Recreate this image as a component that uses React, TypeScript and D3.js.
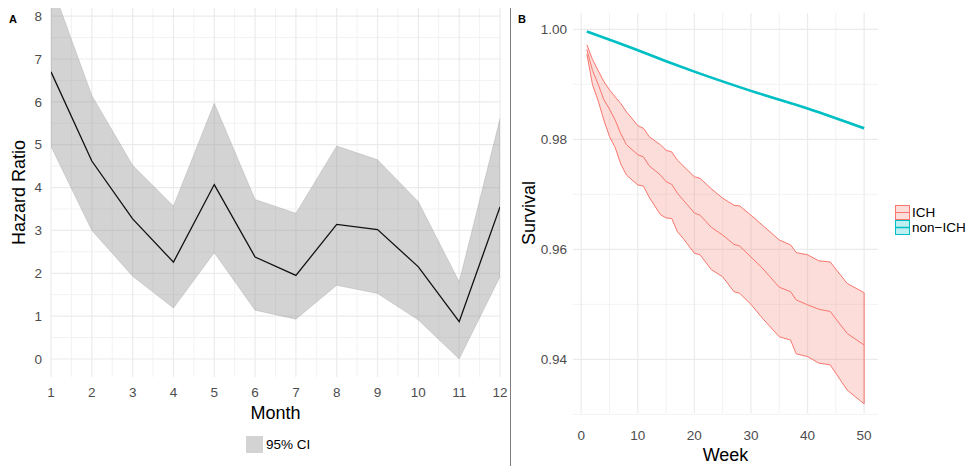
import React from 'react';
import * as d3 from 'd3';

// Panel A: monthly hazard ratio with 95% CI
const months = [1, 2, 3, 4, 5, 6, 7, 8, 9, 10, 11, 12];
const hazard = [6.7, 4.62, 3.27, 2.26, 4.07, 2.38, 1.95, 3.14, 3.02, 2.15, 0.87, 3.55];
const hrLower = [4.96, 3.0, 1.93, 1.19, 2.48, 1.14, 0.93, 1.72, 1.53, 0.91, 0.0, 1.92];
const hrUpper = [8.77, 6.15, 4.52, 3.57, 5.97, 3.72, 3.4, 4.97, 4.65, 3.67, 1.8, 5.61];
const hrTicks = [0, 1, 2, 3, 4, 5, 6, 7, 8];

// Panel B: survival curves
const ichWeeks = [1, 2, 3, 4, 5, 6, 7, 8, 10, 11, 12, 14, 15, 16, 17, 18, 20, 21, 23, 25, 27, 28, 30, 32, 35, 37, 38, 40, 42, 44, 47, 50];
const ichSurv = [0.9963, 0.9925, 0.99, 0.9872, 0.9855, 0.9835, 0.981, 0.979, 0.9772, 0.9768, 0.9752, 0.9735, 0.9723, 0.9718, 0.9702, 0.969, 0.9666, 0.9662, 0.964, 0.9626, 0.9609, 0.9606, 0.9586, 0.9566, 0.9531, 0.9523, 0.9508, 0.9499, 0.9491, 0.9487, 0.9447, 0.9426];
const ichUpper = [0.9972, 0.9945, 0.9925, 0.9905, 0.989, 0.9877, 0.9865, 0.985, 0.9825, 0.982, 0.9805, 0.979, 0.978, 0.9777, 0.9762, 0.9752, 0.9732, 0.9729, 0.971, 0.9693, 0.968, 0.9679, 0.9662, 0.9644, 0.9617, 0.9608, 0.9594, 0.959, 0.9579, 0.9577, 0.9538, 0.9521];
const ichLower = [0.9955, 0.9899, 0.987, 0.9835, 0.9805, 0.9785, 0.9755, 0.9735, 0.9717, 0.9715, 0.9695, 0.9663, 0.9657, 0.9656, 0.9632, 0.962, 0.9593, 0.959, 0.9563, 0.955, 0.9523, 0.952, 0.95, 0.9475, 0.9441, 0.9435, 0.941, 0.9405, 0.9393, 0.939, 0.9344, 0.9319];
const nonWeeks = [1, 10, 15, 20, 30, 40, 50];
const nonSurv = [0.9996, 0.9962, 0.9942, 0.9923, 0.9888, 0.9856, 0.982];
const nonUpper = [0.9997, 0.9964, 0.9944, 0.9925, 0.989, 0.9858, 0.9823];
const nonLower = [0.9995, 0.996, 0.994, 0.9921, 0.9886, 0.9854, 0.9817];
const weekTicks = [0, 10, 20, 30, 40, 50];
const survTicks = [0.94, 0.96, 0.98, 1.0];

const FONT = '"Liberation Sans", Arial, Helvetica, sans-serif';
const RED = '#F8766D';
const CYAN = '#00BFC4';
const GRID = '#EBEBEB';
const TICK = '#4D4D4D';

export default function App() {
  // ---- panel A scales
  const xA = d3.scaleLinear().domain([1, 12]).range([51, 500]);
  const yA = d3.scaleLinear().domain([-0.42, 8.19]).range([377, 8]);
  const [ax0, ax1] = xA.range();
  const [ay0, ay1] = yA.range();

  const bandA = d3.area<number>()
    .x((_, i) => xA(months[i]))
    .y0((_, i) => yA(hrLower[i]))
    .y1((_, i) => yA(hrUpper[i]));
  const lineA = d3.line<number>()
    .x((_, i) => xA(months[i]))
    .y(d => yA(d));

  const minorXA = d3.range(1.5, 12, 1);
  const minorYA = d3.range(-0.5, 8.5, 1).filter(v => yA(v) <= ay0 && yA(v) >= ay1);

  // ---- panel B scales
  const xB = d3.scaleLinear().domain([-1.45, 52.45]).range([573, 878]);
  const yB = d3.scaleLinear().domain([0.93024, 1.00296]).range([413, 13]);
  const [bx0, bx1] = xB.range();
  const [by0, by1] = yB.range();

  const bandB = (w: number[], lo: number[], hi: number[]) =>
    d3.area<number>()
      .x((_, i) => xB(w[i]))
      .y0((_, i) => yB(lo[i]))
      .y1((_, i) => yB(hi[i]))(w) || '';
  const lineB = (w: number[], v: number[], curve = d3.curveLinear) =>
    d3.line<number>()
      .x((_, i) => xB(w[i]))
      .y(d => yB(d))
      .curve(curve)(v) || '';

  const minorXB = d3.range(5, 55, 10);
  const minorYB = d3.range(0.93, 1.0, 0.02);

  return (
    <div style={{ position: 'absolute', left: 0, top: 0 }}>
      <svg width={967} height={468} style={{ display: 'block', fontFamily: FONT }}>
        <rect width={967} height={468} fill="#fff" />
        <defs>
          <clipPath id="clipA">
            <rect x={ax0} y={ay1} width={ax1 - ax0} height={ay0 - ay1} />
          </clipPath>
        </defs>

        {/* ===== Panel A ===== */}
        <g>
          {minorXA.map(v => (
            <line key={'mxa' + v} x1={xA(v)} x2={xA(v)} y1={ay1} y2={ay0} stroke="#F2F2F2" strokeWidth={1} />
          ))}
          {minorYA.map(v => (
            <line key={'mya' + v} x1={ax0} x2={ax1} y1={yA(v)} y2={yA(v)} stroke="#F2F2F2" strokeWidth={1} />
          ))}
          {months.map(m => (
            <line key={'gxa' + m} x1={xA(m)} x2={xA(m)} y1={ay1} y2={ay0} stroke={GRID} strokeWidth={1.2} />
          ))}
          {hrTicks.map(t => (
            <line key={'gya' + t} x1={ax0} x2={ax1} y1={yA(t)} y2={yA(t)} stroke={GRID} strokeWidth={1.2} />
          ))}
          <g clipPath="url(#clipA)">
            <path d={bandA(hazard) || ''} fill="rgba(150,150,150,0.42)" stroke="rgba(150,150,150,0.5)" strokeWidth={0.6} />
            <path d={lineA(hazard) || ''} fill="none" stroke="#111" strokeWidth={1.3} />
          </g>
          {hrTicks.map(t => (
            <text key={'tya' + t} x={42} y={yA(t)} dy="0.35em" textAnchor="end" fontSize={13.5} fill={TICK}>{t}</text>
          ))}
          {months.map(m => (
            <text key={'txa' + m} x={xA(m)} y={392} dy="0.35em" textAnchor="middle" fontSize={13.5} fill={TICK}>{m}</text>
          ))}
          <text x={(ax0 + ax1) / 2} y={413} dy="0.35em" textAnchor="middle" fontSize={18} fill="#000">Month</text>
          <text transform={`translate(19,${(ay0 + ay1) / 2}) rotate(-90)`} dy="0.35em" textAnchor="middle" fontSize={18} fill="#000">Hazard Ratio</text>
          <text x={9} y={23} fontSize={11} fontWeight="bold" fill="#000">A</text>
          {/* legend */}
          <rect x={246} y={436} width={17} height={17} fill="rgba(150,150,150,0.42)" />
          <text x={266} y={444.5} dy="0.35em" fontSize={13.5} fill="#000">95% CI</text>
        </g>

        {/* divider */}
        <line x1={510.5} x2={510.5} y1={8} y2={466} stroke="#7f7f7f" strokeWidth={1} />

        {/* ===== Panel B ===== */}
        <g>
          {minorXB.map(v => (
            <line key={'mxb' + v} x1={xB(v)} x2={xB(v)} y1={by1} y2={by0} stroke="#F2F2F2" strokeWidth={1} />
          ))}
          {minorYB.map(v => (
            <line key={'myb' + v} x1={bx0} x2={bx1} y1={yB(v)} y2={yB(v)} stroke="#F2F2F2" strokeWidth={1} />
          ))}
          {weekTicks.map(t => (
            <line key={'gxb' + t} x1={xB(t)} x2={xB(t)} y1={by1} y2={by0} stroke={GRID} strokeWidth={1.2} />
          ))}
          {survTicks.map(t => (
            <line key={'gyb' + t} x1={bx0} x2={bx1} y1={yB(t)} y2={yB(t)} stroke={GRID} strokeWidth={1.2} />
          ))}

          <path d={bandB(ichWeeks, ichLower, ichUpper)} fill="rgba(248,118,109,0.25)" stroke="none" />
          <path d={lineB(ichWeeks, ichUpper)} fill="none" stroke={RED} strokeWidth={1} />
          <path d={lineB(ichWeeks, ichLower)} fill="none" stroke={RED} strokeWidth={1} />
          <path d={lineB(ichWeeks, ichSurv)} fill="none" stroke={RED} strokeWidth={1} />
          <line x1={xB(50)} x2={xB(50)} y1={yB(ichUpper[ichUpper.length - 1])} y2={yB(ichLower[ichLower.length - 1])} stroke={RED} strokeWidth={1} />

          <path d={bandB(nonWeeks, nonLower, nonUpper)} fill="rgba(0,191,196,0.25)" stroke="none" />
          <path d={lineB(nonWeeks, nonSurv, d3.curveMonotoneX)} fill="none" stroke={CYAN} strokeWidth={2.6} />

          {survTicks.map(t => (
            <text key={'tyb' + t} x={567} y={yB(t)} dy="0.35em" textAnchor="end" fontSize={13.5} fill={TICK}>{d3.format('.2f')(t)}</text>
          ))}
          {weekTicks.map(t => (
            <text key={'txb' + t} x={xB(t)} y={435} dy="0.35em" textAnchor="middle" fontSize={13.5} fill={TICK}>{t}</text>
          ))}
          <text x={(bx0 + bx1) / 2} y={455} dy="0.35em" textAnchor="middle" fontSize={18} fill="#000">Week</text>
          <text transform={`translate(529,${(by0 + by1) / 2}) rotate(-90)`} dy="0.35em" textAnchor="middle" fontSize={18} fill="#000">Survival</text>
          <text x={518} y={23} fontSize={11} fontWeight="bold" fill="#000">B</text>

          {/* legend */}
          <rect x={895.5} y={205.5} width={14} height={14} fill="rgba(248,118,109,0.25)" stroke={RED} strokeWidth={1} />
          <line x1={895.5} x2={909.5} y1={212.5} y2={212.5} stroke={RED} strokeWidth={1} />
          <rect x={895.5} y={220.5} width={14} height={14} fill="rgba(0,191,196,0.25)" stroke={CYAN} strokeWidth={1} />
          <line x1={895.5} x2={909.5} y1={227.5} y2={227.5} stroke={CYAN} strokeWidth={1.5} />
          <text x={912} y={212.5} dy="0.35em" fontSize={13.5} fill="#000">ICH</text>
          <text x={912} y={227.5} dy="0.35em" fontSize={13.5} fill="#000">non−ICH</text>
        </g>
      </svg>
    </div>
  );
}
